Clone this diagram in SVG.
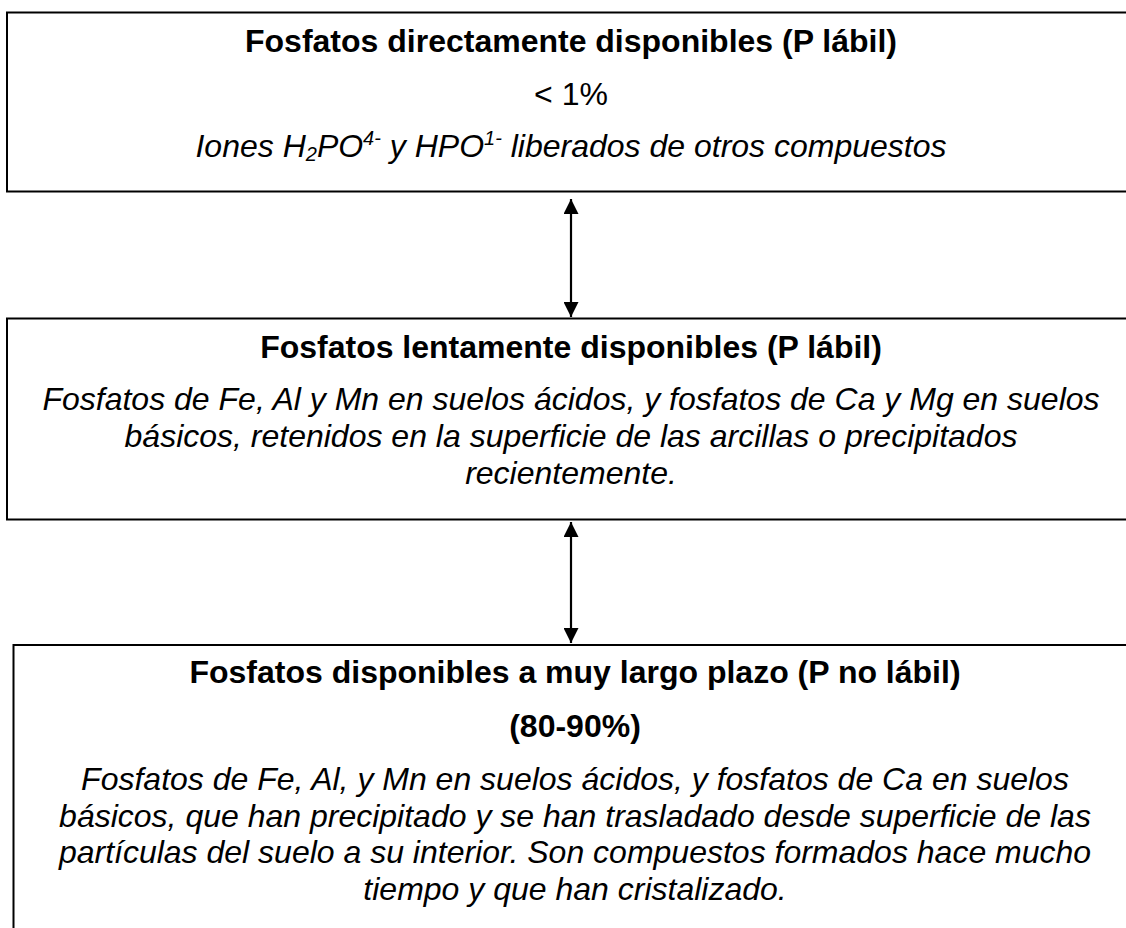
<svg xmlns="http://www.w3.org/2000/svg" width="1126" height="928" viewBox="0 0 1126 928">
<style>
.box{fill:#fff;stroke:#000;stroke-width:2}
.t{font-family:"Liberation Sans",Arial,sans-serif;font-size:32px;fill:#000;text-anchor:middle}
.b{font-weight:bold}
.i{font-style:italic}
.conn{stroke:#000;stroke-width:2.2;fill:none}
</style>
<defs>
<marker id="ah" viewBox="0 0 10 10" refX="10" refY="5" markerWidth="15" markerHeight="15" markerUnits="userSpaceOnUse" orient="auto-start-reverse">
<path d="M0,0 L10,5 L0,10 Z" fill="#000"/>
</marker>
</defs>
<rect width="1126" height="928" fill="#fff"/>
<g id="node1">
<rect class="box" x="7" y="12.5" width="1130" height="179"/>
<text class="t b" x="571" y="52">Fosfatos directamente disponibles (P lábil)</text>
<text class="t" x="571" y="105">&lt; 1%</text>
<text class="t i" x="571" y="157">Iones H<tspan font-size="20" dy="4">2</tspan><tspan dy="-4">PO</tspan><tspan font-size="20" dy="-12">4-</tspan><tspan dy="12"> y HPO</tspan><tspan font-size="20" dy="-12">1-</tspan><tspan dy="12"> liberados de otros compuestos</tspan></text>
</g>
<g id="node2">
<rect class="box" x="7" y="318.5" width="1130" height="201"/>
<text class="t b" x="571" y="358">Fosfatos lentamente disponibles (P lábil)</text>
<text class="t i" x="571" y="410">Fosfatos de Fe, Al y Mn en suelos ácidos, y fosfatos de Ca y Mg en suelos</text>
<text class="t i" x="571" y="447">básicos, retenidos en la superficie de las arcillas o precipitados</text>
<text class="t i" x="571" y="484">recientemente.</text>
</g>
<g id="node3">
<rect class="box" x="13.5" y="645" width="1130" height="300"/>
<text class="t b" x="575" y="683">Fosfatos disponibles a muy largo plazo (P no lábil)</text>
<text class="t b" x="575" y="737">(80-90%)</text>
<text class="t i" x="575" y="790">Fosfatos de Fe, Al, y Mn en suelos ácidos, y fosfatos de Ca en suelos</text>
<text class="t i" x="575" y="827">básicos, que han precipitado y se han trasladado desde superficie de las</text>
<text class="t i" x="575" y="863">partículas del suelo a su interior. Son compuestos formados hace mucho</text>
<text class="t i" x="575" y="900">tiempo y que han cristalizado.</text>
</g>
<g id="connectors">
<line class="conn" x1="571" y1="199" x2="571" y2="317" marker-start="url(#ah)" marker-end="url(#ah)"/>
<line class="conn" x1="571" y1="522" x2="571" y2="643" marker-start="url(#ah)" marker-end="url(#ah)"/>
</g>
</svg>
